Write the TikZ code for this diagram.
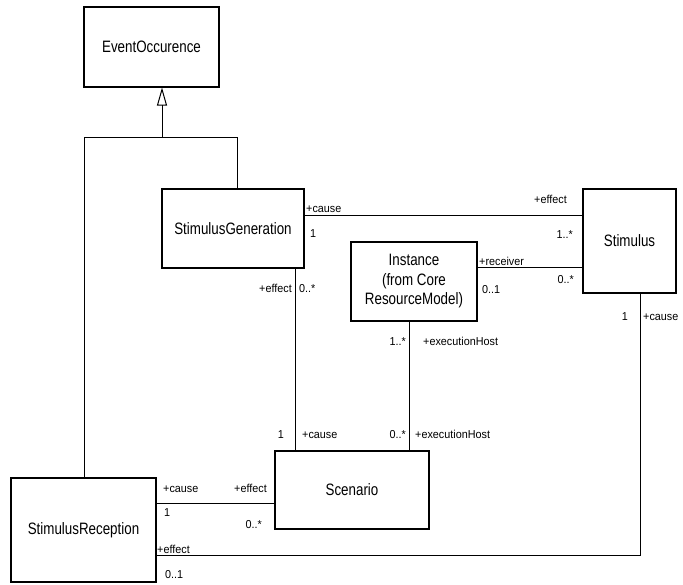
\documentclass[tikz,border=0pt]{standalone}
\usepackage{fontspec}
\newfontfamily\boxfont[FakeStretch=0.81]{Liberation Sans}
\newfontfamily\labfont[FakeStretch=0.94]{Liberation Sans}
\usetikzlibrary{arrows.meta}
\begin{document}
\begin{tikzpicture}[x=1pt,y=-1pt,
  cls/.style={draw, line width=1.1pt, inner sep=0pt, align=center,
    font=\boxfont\fontsize{16.5}{19.5}\selectfont},
  lab/.style={inner sep=0pt, font=\labfont\fontsize{11.5}{13}\selectfont},
  conn/.style={line width=1pt},
  gen/.style={conn, -{Triangle[open, length=18pt, width=10pt]}}]
\useasboundingbox (0,0) rectangle (683,584);
% classes
\node[cls, minimum width=135pt, minimum height=80pt] (eo) at (151.5,47) {EventOccurence};
\node[cls, minimum width=142pt, minimum height=79pt] (sg) at (233,228.5) {StimulusGeneration};
\node[cls, minimum width=93pt, minimum height=104pt] (st) at (629.5,241) {Stimulus};
\node[cls, minimum width=126pt, minimum height=79pt] (in) at (414,281.5) {Instance\\(from Core\\ResourceModel)};
\node[cls, minimum width=154pt, minimum height=78pt] (sc) at (352,490) {Scenario};
\node[cls, minimum width=145pt, minimum height=104pt] (sr) at (83.5,530) {StimulusReception};
% generalization
\coordinate (g0) at (162,137);
\coordinate (g1) at (237,137);
\coordinate (g2) at (84,137);
\draw[conn] (sg.north -| g1) -- (g1) -- (g2) -- (sr.north -| g2);
\draw[gen] (g0) -- (eo.south -| g0);
% associations
\draw[conn] (sg.east |- 0,215) -- (st.west |- 0,215);
\draw[conn] (in.east |- 0,267) -- (st.west |- 0,267);
\draw[conn] (sg.south -| 295,0) -- (sc.north -| 295,0);
\draw[conn] (in.south -| 409,0) -- (sc.north -| 409,0);
\draw[conn] (sr.east |- 0,503) -- (sc.west |- 0,503);
\coordinate (k) at (640,555);
\draw[conn] (st.south -| k) -- (k) -- (sr.east |- k);
% labels
\node[lab, anchor=base west] at (306,212) {+cause};
\node[lab, anchor=base west] at (310,237) {1};
\node[lab, anchor=base east] at (567,203) {+effect};
\node[lab, anchor=base east] at (573,238) {1..*};
\node[lab, anchor=base west] at (479,265) {+receiver};
\node[lab, anchor=base west] at (482,293) {0..1};
\node[lab, anchor=base east] at (574,283) {0..*};
\node[lab, anchor=base east] at (628,320) {1};
\node[lab, anchor=base west] at (643,320) {+cause};
\node[lab, anchor=base east] at (292,292) {+effect};
\node[lab, anchor=base west] at (299,292) {0..*};
\node[lab, anchor=base east] at (406,345) {1..*};
\node[lab, anchor=base west] at (423,345) {+executionHost};
\node[lab, anchor=base east] at (284,438) {1};
\node[lab, anchor=base west] at (302,438) {+cause};
\node[lab, anchor=base east] at (406,438) {0..*};
\node[lab, anchor=base west] at (415,438) {+executionHost};
\node[lab, anchor=base west] at (163,492) {+cause};
\node[lab, anchor=base west] at (164,516) {1};
\node[lab, anchor=base east] at (267,492) {+effect};
\node[lab, anchor=base east] at (262,528) {0..*};
\node[lab, anchor=base west] at (157,553) {+effect};
\node[lab, anchor=base west] at (165,578) {0..1};
\end{tikzpicture}
\end{document}
